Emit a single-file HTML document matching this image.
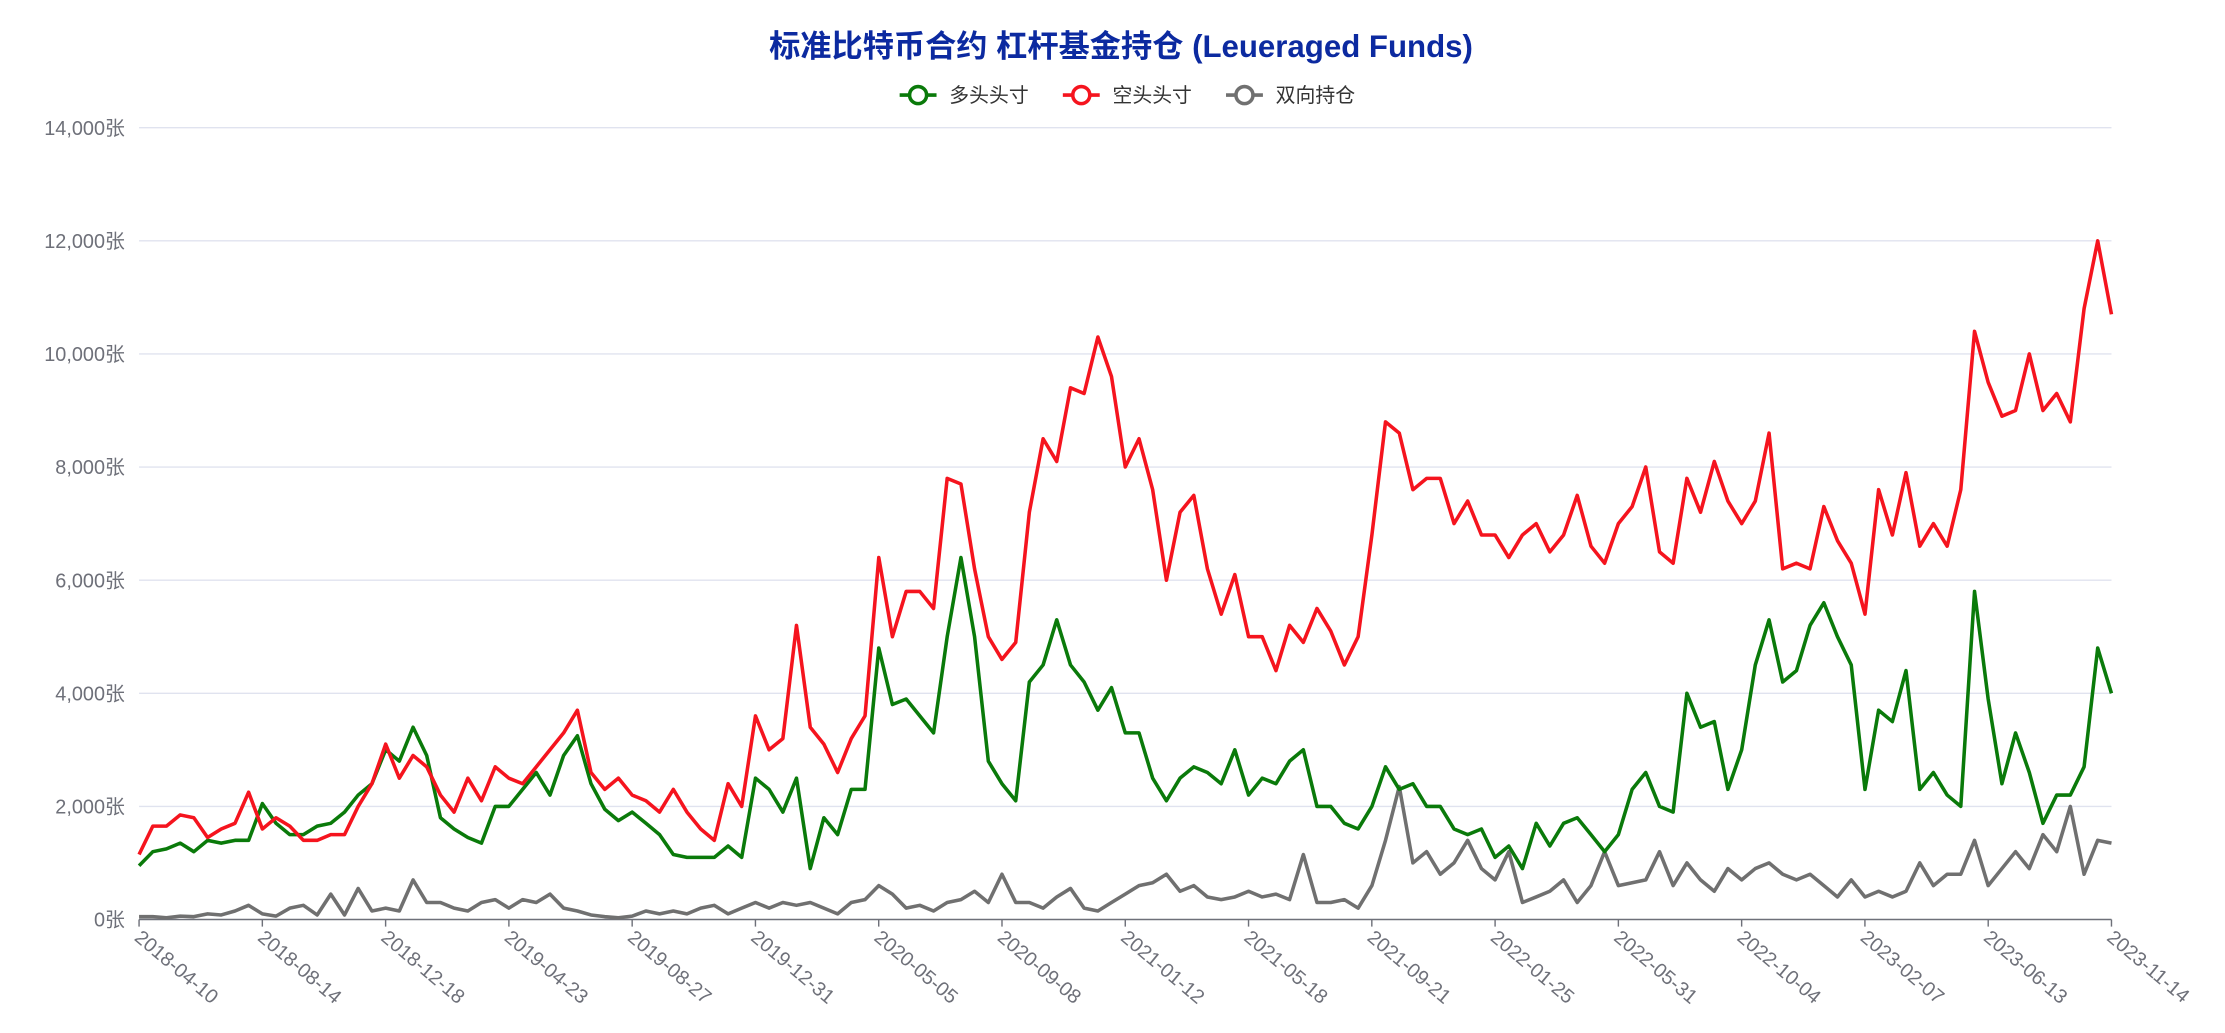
<!DOCTYPE html>
<html><head><meta charset="utf-8"><style>
body{margin:0;background:#fff;}
svg{display:block;font-family:"Liberation Sans","Noto Sans CJK SC",sans-serif;}
</style></head><body>
<svg id="chart" width="2225" height="1033">
<g transform="scale(1.419)">
<text x="790" y="40" text-anchor="middle" font-size="22" font-weight="bold" fill="#0c2aa0">标准比特币合约 杠杆基金持仓 (Leueraged Funds)</text>
<g id="legend"></g>
<g id="grid"></g>
<g id="yaxis"></g>
<g id="xaxis"></g>
<g id="series"></g>
</g>
</svg>
<script>
const tickLabels = ["2018-04-10","2018-08-14","2018-12-18","2019-04-23","2019-08-27","2019-12-31","2020-05-05","2020-09-08","2021-01-12","2021-05-18","2021-09-21","2022-01-25","2022-05-31","2022-10-04","2023-02-07","2023-06-13","2023-11-14"];
const yTicks = [0,2000,4000,6000,8000,10000,12000,14000];
const seriesNames = ["多头头寸","空头头寸","双向持仓"];
const longVals = [950,1200,1250,1350,1200,1400,1350,1400,1400,2050,1700,1500,1500,1650,1700,1900,2200,2400,3000,2800,3400,2900,1800,1600,1450,1350,2000,2000,2300,2600,2200,2900,3250,2400,1950,1750,1900,1700,1500,1150,1100,1100,1100,1300,1100,2500,2300,1900,2500,900,1800,1500,2300,2300,4800,3800,3900,3600,3300,5000,6400,5000,2800,2400,2100,4200,4500,5300,4500,4200,3700,4100,3300,3300,2500,2100,2500,2700,2600,2400,3000,2200,2500,2400,2800,3000,2000,2000,1700,1600,2000,2700,2300,2400,2000,2000,1600,1500,1600,1100,1300,900,1700,1300,1700,1800,1500,1200,1500,2300,2600,2000,1900,4000,3400,3500,2300,3000,4500,5300,4200,4400,5200,5600,5000,4500,2300,3700,3500,4400,2300,2600,2200,2000,5800,3900,2400,3300,2600,1700,2200,2200,2700,4800,4000];
const shortVals = [1150,1650,1650,1850,1800,1450,1600,1700,2250,1600,1800,1650,1400,1400,1500,1500,2000,2400,3100,2500,2900,2700,2200,1900,2500,2100,2700,2500,2400,2700,3000,3300,3700,2600,2300,2500,2200,2100,1900,2300,1900,1600,1400,2400,2000,3600,3000,3200,5200,3400,3100,2600,3200,3600,6400,5000,5800,5800,5500,7800,7700,6200,5000,4600,4900,7200,8500,8100,9400,9300,10300,9600,8000,8500,7600,6000,7200,7500,6200,5400,6100,5000,5000,4400,5200,4900,5500,5100,4500,5000,6800,8800,8600,7600,7800,7800,7000,7400,6800,6800,6400,6800,7000,6500,6800,7500,6600,6300,7000,7300,8000,6500,6300,7800,7200,8100,7400,7000,7400,8600,6200,6300,6200,7300,6700,6300,5400,7600,6800,7900,6600,7000,6600,7600,10400,9500,8900,9000,10000,9000,9300,8800,10800,12000,10700];
const bothVals = [50,50,30,60,50,100,80,150,250,100,60,200,250,80,450,80,550,150,200,150,700,300,300,200,150,300,350,200,350,300,450,200,150,80,50,30,60,150,100,150,100,200,250,100,200,300,200,300,250,300,200,100,300,350,600,450,200,250,150,300,350,500,300,800,300,300,200,400,550,200,150,300,450,600,650,800,500,600,400,350,400,500,400,450,350,1150,300,300,350,200,600,1400,2350,1000,1200,800,1000,1400,900,700,1200,300,400,500,700,300,600,1200,600,650,700,1200,600,1000,700,500,900,700,900,1000,800,700,800,600,400,700,400,500,400,500,1000,600,800,800,1400,600,900,1200,900,1500,1200,2000,800,1400,1350];

const NS="http://www.w3.org/2000/svg";
const X0=98,X1=1488,Y0=648,Y1=90,YMAX=14000;
const n=longVals.length;
function xs(i){return X0+(X1-X0)*i/(n-1);}
function ys(v){return Y0-(Y0-Y1)*v/YMAX;}
function mk(tag,attrs,parent){const e=document.createElementNS(NS,tag);for(const k in attrs)e.setAttribute(k,attrs[k]);parent.appendChild(e);return e;}
const grid=document.getElementById('grid'),yaxis=document.getElementById('yaxis'),xaxis=document.getElementById('xaxis'),series=document.getElementById('series'),legend=document.getElementById('legend');
yTicks.forEach(t=>{
 if(t>0){const l=mk('line',{x1:X0,x2:X1,y1:ys(t),y2:ys(t),stroke:'#e0e3ef','stroke-width':1},grid);
 
 }
 const tx=mk('text',{x:88,y:ys(t)+5,'text-anchor':'end','font-size':14,fill:'#6e7079'},yaxis);
 tx.textContent=t.toLocaleString('en-US')+'张';
 
 
});
const ax=mk('line',{x1:X0,x2:X1,y1:Y0,y2:Y0,stroke:'#6e7079','stroke-width':1},xaxis);


tickLabels.forEach((lab,k)=>{
 const i=Math.round(k*(n-1)/(tickLabels.length-1));
 const x=xs(i);
 const tk=mk('line',{x1:x,x2:x,y1:Y0,y2:Y0+5,stroke:'#6e7079'},xaxis);
 
 
 const tx=mk('text',{x:x-4,y:Y0+14,'font-size':14,fill:'#6e7079',transform:`rotate(40 ${x-4} ${Y0+14})`},xaxis);
 tx.textContent=lab;
 
 
});
const defs=[[longVals,'#0a7a0a','long-position-line'],[shortVals,'#f5141e','short-position-line'],[bothVals,'#707070','spread-position-line']];
[defs[2],defs[0],defs[1]].forEach(([vals,col,name])=>{
 const pts=vals.map((v,i)=>xs(i).toFixed(1)+','+ys(v).toFixed(1)).join(' ');
 const p=mk('polyline',{points:pts,fill:'none',stroke:col,'stroke-width':2.5,'stroke-linejoin':'round'},series);
 
 
});
const lx=[634,749,864];
defs.forEach(([v,col],k)=>{
 const g=mk('g',{},legend);
 
 
 mk('line',{x1:lx[k],x2:lx[k]+26,y1:67,y2:67,stroke:col,'stroke-width':2.5},g);
 mk('circle',{cx:lx[k]+13,cy:67,r:6,fill:'#fff',stroke:col,'stroke-width':2.5},g);
 const t=mk('text',{x:lx[k]+35,y:72,'font-size':14,fill:'#333'},g);
 t.textContent=seriesNames[k];
});
</script>
</body></html>
